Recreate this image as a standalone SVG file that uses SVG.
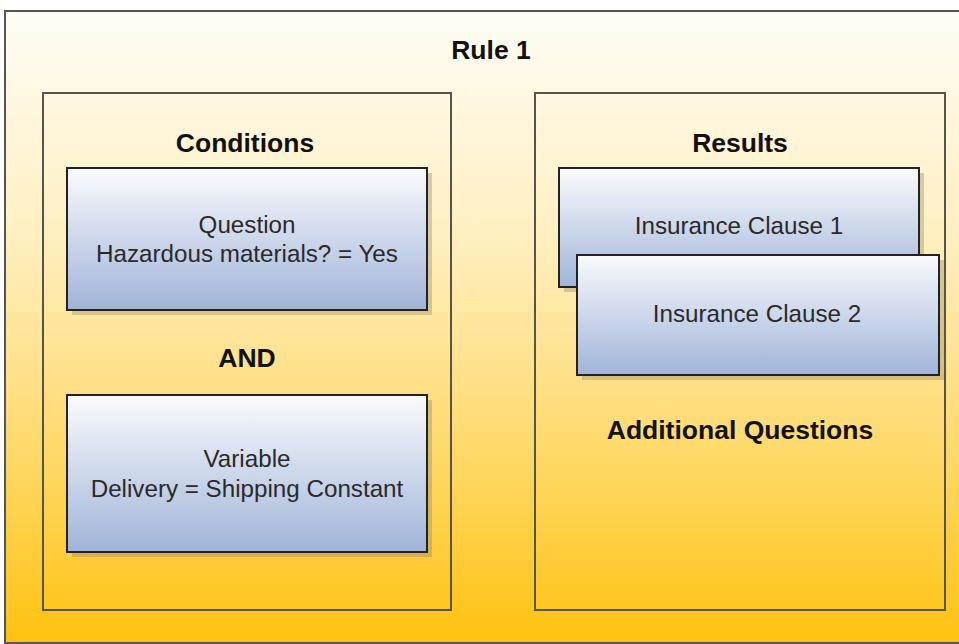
<svg xmlns="http://www.w3.org/2000/svg" width="959" height="644" viewBox="0 0 959 644">
  <defs>
    <linearGradient id="bg" x1="0" y1="0" x2="0" y2="1">
      <stop offset="0" stop-color="#FFFDF6"/>
      <stop offset="0.35" stop-color="#FFF0C2"/>
      <stop offset="0.7" stop-color="#FFD96A"/>
      <stop offset="1" stop-color="#FFC20E"/>
    </linearGradient>
    <linearGradient id="box" x1="0" y1="0" x2="0" y2="1">
      <stop offset="0" stop-color="#FAFBFD"/>
      <stop offset="1" stop-color="#A0B4D8"/>
    </linearGradient>
  </defs>
  <style>
    .panel { fill: none; stroke: #55554a; stroke-width: 2; }
    .node { fill: url(#box); stroke: #222; stroke-width: 2; }
    .shadow { fill: #8a8060; opacity: 0.35; }
    .t { font-family: "Liberation Sans", Arial, sans-serif; font-size: 24.2px; fill: #2a2a2a; text-anchor: middle; }
    .b { font-family: "Liberation Sans", Arial, sans-serif; font-size: 26.5px; font-weight: bold; fill: #111; text-anchor: middle; }
  </style>

  <rect x="0" y="0" width="959" height="644" fill="#ffffff"/>
  <g id="rule1">
    <rect x="5" y="11" width="970" height="632" fill="url(#bg)" stroke="#555" stroke-width="2"/>
    <text class="b" x="491" y="59">Rule 1</text>
  </g>

  <g id="conditions">
    <rect class="panel" x="43" y="93" width="408" height="517"/>
    <text class="b" x="245" y="152">Conditions</text>
    <text class="b" x="247" y="367">AND</text>
  </g>

  <g id="question">
    <rect class="shadow" x="72" y="173" width="360" height="142"/>
    <rect class="node" x="67" y="168" width="360" height="142"/>
    <text class="t" x="247" y="233">Question</text>
    <text class="t" x="247" y="262">Hazardous materials? = Yes</text>
  </g>

  <g id="variable">
    <rect class="shadow" x="72" y="400" width="360" height="157"/>
    <rect class="node" x="67" y="395" width="360" height="157"/>
    <text class="t" x="247" y="467">Variable</text>
    <text class="t" x="247" y="497">Delivery = Shipping Constant</text>
  </g>

  <g id="results">
    <rect class="panel" x="535" y="93" width="410" height="517"/>
    <text class="b" x="740" y="152">Results</text>
    <text class="b" x="740" y="439">Additional Questions</text>
  </g>

  <g id="clause1">
    <rect class="shadow" x="564" y="173" width="360" height="119"/>
    <rect class="node" x="559" y="168" width="360" height="119"/>
    <text class="t" x="739" y="234">Insurance Clause 1</text>
  </g>

  <g id="clause2">
    <rect class="shadow" x="582" y="260" width="362" height="120"/>
    <rect class="node" x="577" y="255" width="362" height="120"/>
    <text class="t" x="757" y="322">Insurance Clause 2</text>
  </g>

  <g id="connectors"></g>
</svg>
